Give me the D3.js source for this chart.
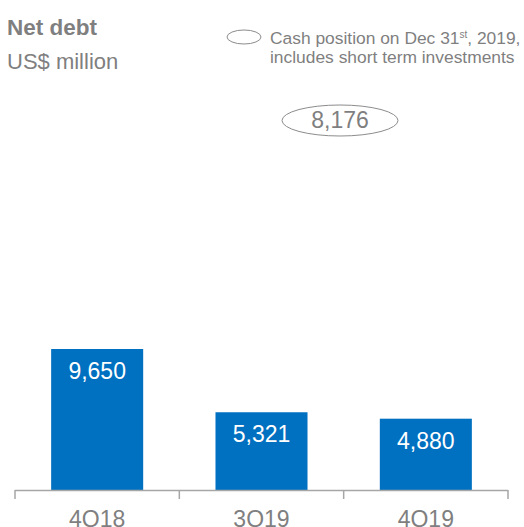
<!DOCTYPE html>
<html>
<head>
<meta charset="utf-8">
<script src="https://cdn.jsdelivr.net/npm/d3@7"></script>
<style>
  html, body { margin: 0; padding: 0; background: #fff; }
  svg { display: block; font-family: Arial, "Liberation Sans", sans-serif; }
</style>
</head>
<body>
<svg id="chart" width="524" height="527"></svg>
<script>
const categories = ["4Q18", "3Q19", "4Q19"];
const netDebt = [9650, 5321, 4880];
const cashPosition = 8176;
const titleText = "Net debt";
const unitText = "US$ million";
const legendLine1 = ["Cash position on Dec 31", "st", ", 2019,"];
const legendLine2 = "includes short term investments";

const svg = d3.select("#chart");
const grey = "#7f7f7f";
const blue = "#0070C0";
const fmt = d3.format(",");

const baseY = 490;
const x = d3.scaleBand().domain(categories).range([15, 508]).paddingInner(0.44).paddingOuter(0.22);
const y = d3.scaleLinear().domain([0, 9650]).range([baseY, 349]);

// title
svg.append("text").attr("x", 7).attr("y", 35).attr("fill", grey)
  .attr("font-size", 22.5).attr("font-weight", "bold").text(titleText);
svg.append("text").attr("x", 7).attr("y", 69).attr("fill", grey)
  .attr("font-size", 22).text(unitText);

// legend
svg.append("ellipse").attr("cx", 244).attr("cy", 37).attr("rx", 17).attr("ry", 7)
  .attr("fill", "none").attr("stroke", "#8c8c8c").attr("stroke-width", 1);
const l1 = svg.append("text").attr("x", 270).attr("y", 44).attr("fill", grey).attr("font-size", 17.4);
l1.append("tspan").text(legendLine1[0]);
l1.append("tspan").attr("font-size", 10).attr("dy", -6).text(legendLine1[1]);
l1.append("tspan").attr("dy", 6).text(legendLine1[2]);
svg.append("text").attr("x", 270).attr("y", 63).attr("fill", grey).attr("font-size", 17.4).text(legendLine2);

// cash annotation
svg.append("ellipse").attr("cx", 340).attr("cy", 120.5).attr("rx", 58).attr("ry", 15.5)
  .attr("fill", "none").attr("stroke", "#8c8c8c").attr("stroke-width", 1);
svg.append("text").attr("x", 340).attr("y", 128).attr("text-anchor", "middle")
  .attr("fill", grey).attr("font-size", 23).text(fmt(cashPosition));

// bars
const data = categories.map((c, i) => ({ c, v: netDebt[i] }));
svg.selectAll("rect.bar").data(data).join("rect").attr("class", "bar")
  .attr("x", d => x(d.c)).attr("width", x.bandwidth())
  .attr("y", d => y(d.v)).attr("height", d => baseY - y(d.v))
  .attr("fill", blue);
svg.selectAll("text.val").data(data).join("text").attr("class", "val")
  .attr("x", d => x(d.c) + x.bandwidth() / 2).attr("y", d => y(d.v) + 30)
  .attr("text-anchor", "middle").attr("fill", "#fff").attr("font-size", 23)
  .text(d => fmt(d.v));

// axis
const axis = svg.append("g").attr("stroke", "#a6a6a6").attr("stroke-width", 1.5);
const [r0, r1] = x.range();
axis.append("line").attr("x1", r0).attr("x2", r1).attr("y1", baseY + 0.5).attr("y2", baseY + 0.5);
const bounds = d3.range(categories.length + 1).map(i => r0 + i * x.step());
axis.selectAll("line.tick").data(bounds).join("line").attr("class", "tick")
  .attr("x1", d => d).attr("x2", d => d).attr("y1", baseY).attr("y2", baseY + 9);
svg.selectAll("text.cat").data(categories).join("text").attr("class", "cat")
  .attr("x", d => x(d) + x.bandwidth() / 2).attr("y", 527)
  .attr("text-anchor", "middle").attr("fill", grey).attr("font-size", 23).text(d => d);
</script>
</body>
</html>
